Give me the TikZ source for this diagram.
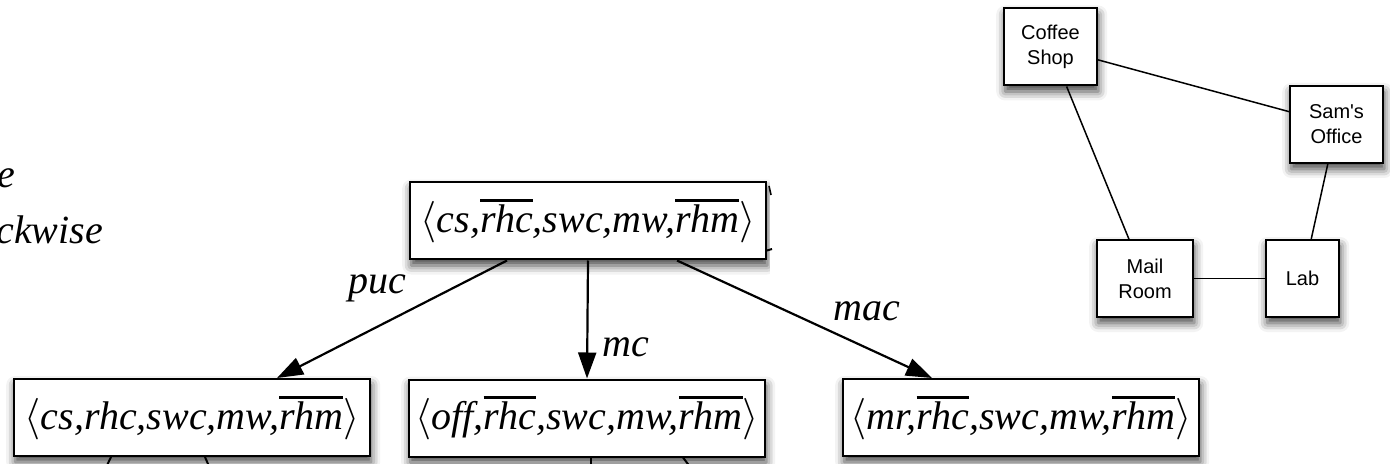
\documentclass[tikz,border=0pt]{standalone}
\usepackage{fontspec}
\setmainfont{Liberation Serif}
\setsansfont{Liberation Sans}
\usetikzlibrary{arrows.meta,calc,shadows.blur}

% negated fluent: italic text with a heavy bar over it
\newcommand{\negfl}[1]{\setbox0\hbox{#1}\rlap{\raisebox{\dimexpr\ht0+1.3pt\relax}{\rule{\wd0}{1.6pt}}}\box0}
% a state tuple
\newcommand{\tuple}[1]{$\langle$\itshape #1$\rangle$}

\tikzset{
  shade box/.style={blur shadow={shadow xshift=0.6pt, shadow yshift=-3pt,
      shadow blur radius=4.5pt, shadow opacity=75}},
  statebox/.style={draw, line width=1pt, fill=white, shade box,
      minimum width=178pt, minimum height=38.5pt, inner sep=0pt,
      font=\fontsize{20}{24}\selectfont},
  roombox/.style={draw, line width=1pt, fill=white, shade box,
      minimum height=38.5pt, inner sep=0pt, align=center,
      font=\sffamily\fontsize{10}{12.5}\selectfont},
  move/.style={-{Triangle[length=13pt,width=9pt]}, line width=1.1pt},
  actlabel/.style={font=\itshape\fontsize{20}{24}\selectfont, inner sep=0pt},
  link/.style={line width=0.75pt},
  stub/.style={line width=1pt}
}

\begin{document}
\begin{tikzpicture}[x=0.5pt, y=-0.5pt]
\useasboundingbox (0,0) rectangle (1390,464);

% fragments of the surrounding text
\node[actlabel, anchor=west] (w1) at (-3,178) {e};
\node[actlabel, anchor=west] (w2) at (-4,230) {ckwise};

% search tree over states
\node[statebox] (top) at (588,221)
  {\tuple{cs,\negfl{rhc},swc,mw,\negfl{rhm}}};
\fill[white] (770,150) rectangle (805,285);
\coordinate (trA) at (772,249);
\coordinate (trB) at (769,186);
\coordinate (trC) at (771,195);
\draw[stub] ($(top.south east)+(0,-10)$) -- (trA);
\draw[line width=0.8pt] (trB) -- (trC);

\node[statebox] (left) at (192,417.5)
  {\tuple{cs,rhc,swc,mw,\negfl{rhm}}};
\node[statebox] (mid) at (587,418)
  {\tuple{off,\negfl{rhc},swc,mw,\negfl{rhm}}};
\node[statebox] (right) at (1021,417.5)
  {\tuple{mr,\negfl{rhc},swc,mw,\negfl{rhm}}};

\draw[move] ($(top.south)+(-81,0)$) -- ($(left.north)+(85,0)$);
\draw[move] (top.south) -- (mid.north);
\draw[move] ($(top.south)+(89,0)$) -- ($(right.north)+(-89,0)$);

\node[actlabel] (lpuc) at (377,288) {puc};
\node[actlabel] (lmc)  at (626,347) {mc};
\node[actlabel] (lmac) at (867,311) {mac};

% edges continuing to the next level
\coordinate (dA) at (100,480);
\coordinate (dB) at (215,480);
\coordinate (dC) at (591,480);
\coordinate (dD) at (700,480);
\draw[stub] ($(left.south)+(-81,0)$) -- (dA);
\draw[stub] ($(left.south)+(13,0)$) -- (dB);
\draw[stub] ($(mid.south)+(4,0)$) -- (dC);
\draw[stub] ($(mid.south)+(96,0)$) -- (dD);

% map of locations
\node[roombox, minimum width=46.5pt] (coffee) at (1050.5,47) {Coffee\\Shop};
\node[roombox, minimum width=46.5pt] (sam) at (1336.5,124.5) {Sam\textquotesingle s\\Office};
\node[roombox, minimum width=48pt] (mail) at (1145,278.5) {Mail\\Room};
\node[roombox, minimum width=36.5pt] (lab) at (1302.5,278.5) {Lab};

\draw[link] (coffee) -- (sam);
\draw[link] (coffee) -- (mail);
\draw[link] (sam) -- (lab);
\draw[link] (mail) -- (lab);
\end{tikzpicture}
\end{document}
